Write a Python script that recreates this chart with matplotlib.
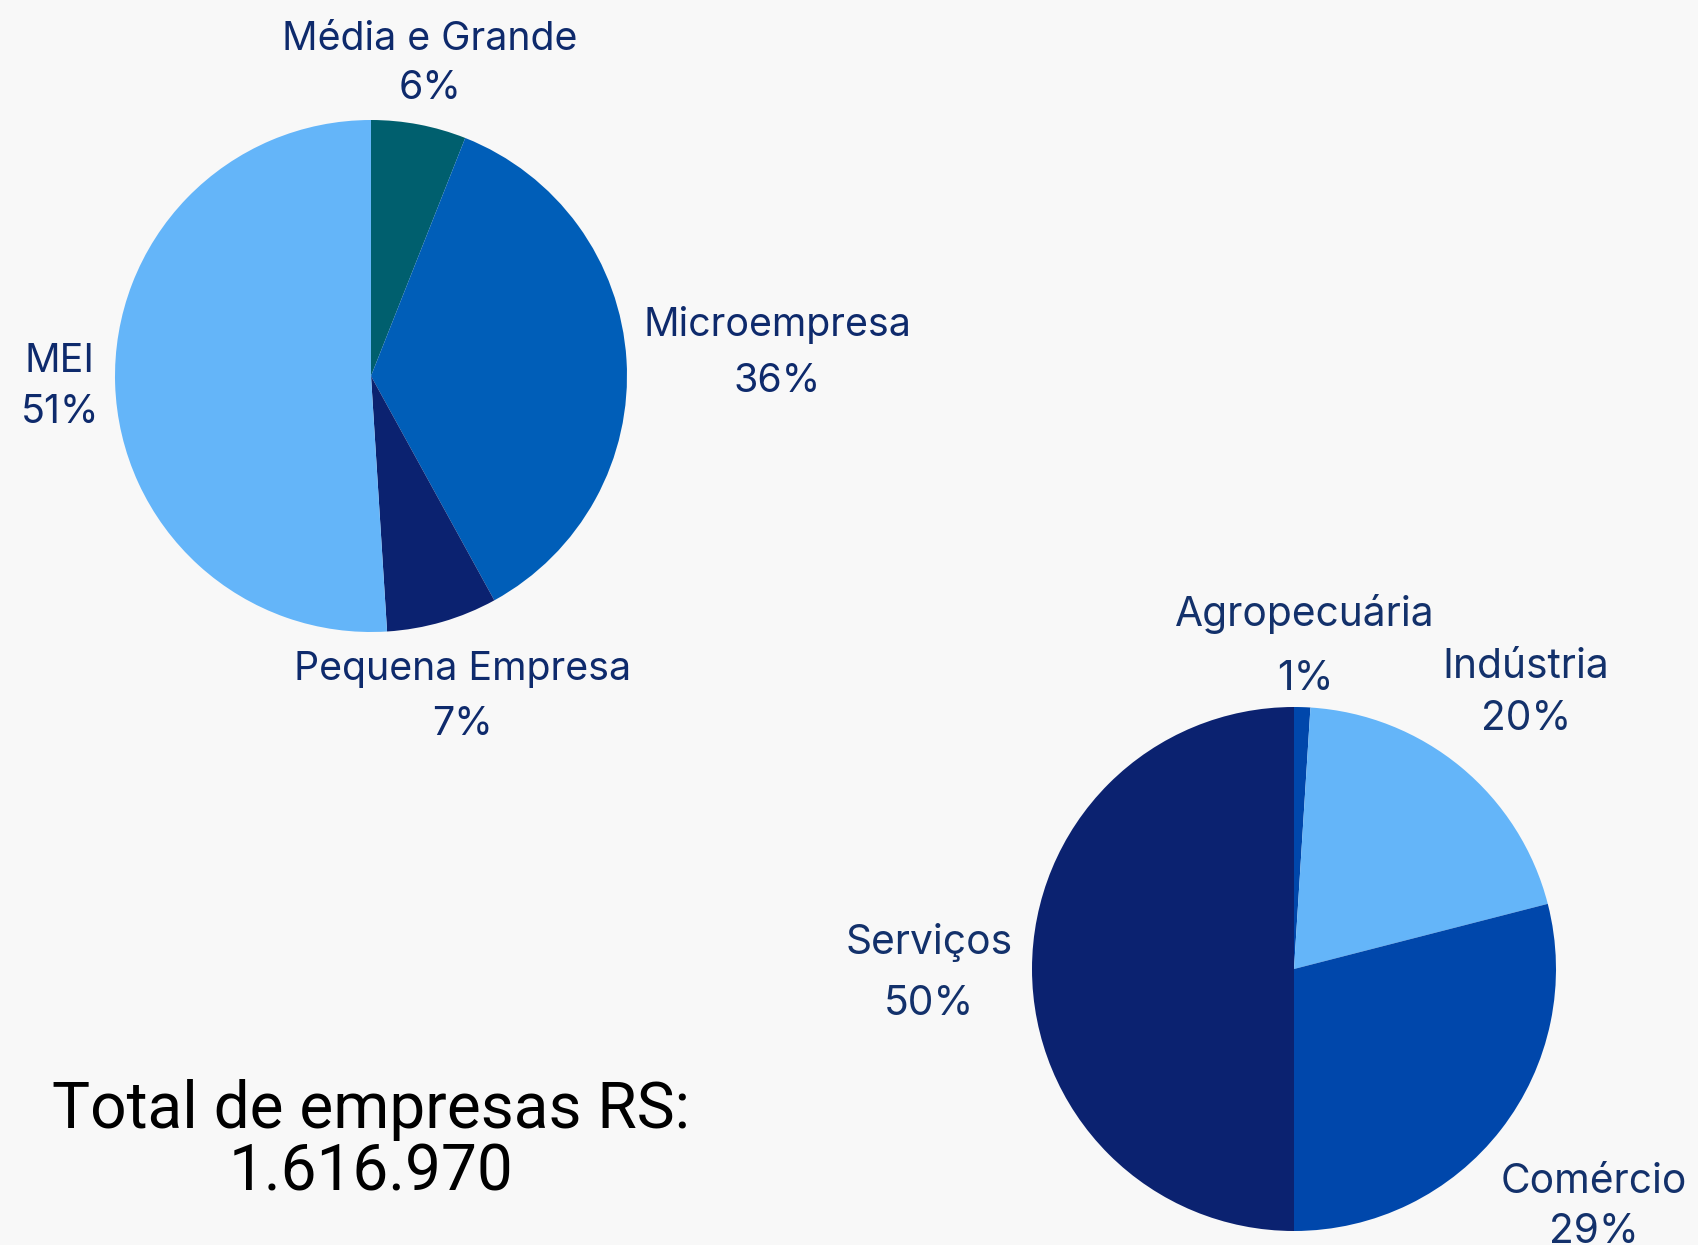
import matplotlib
matplotlib.use("Agg")
import matplotlib.pyplot as plt

# Data
porte_labels = ["Média e Grande", "Microempresa", "Pequena Empresa", "MEI"]
porte_values = [6, 36, 7, 51]
porte_colors = ["#005F6E", "#005EB8", "#0B2270", "#64B5F9"]

setor_labels = ["Agropecuária", "Indústria", "Comércio", "Serviços"]
setor_values = [1, 20, 29, 50]
setor_colors = ["#0047AB", "#64B5F9", "#0047AB", "#0B2270"]

total_text = "Total de empresas RS:\n1.616.970"

W, H = 1698, 1245
BG = "#F8F8F8"
FONT = ["Inter", "DejaVu Sans"]

fig = plt.figure(figsize=(W / 100, H / 100), dpi=100, facecolor=BG)
ax = fig.add_axes([0, 0, 1, 1])
ax.set_facecolor(BG)

def y(v):
    return H - v

ax.pie(porte_values, colors=porte_colors, startangle=90, counterclock=False,
       center=(371, y(376)), radius=256, wedgeprops=dict(linewidth=0))
ax.pie(setor_values, colors=setor_colors, startangle=90, counterclock=False,
       center=(1294, y(969)), radius=262, wedgeprops=dict(linewidth=0))
ax.set_xlim(0, W)
ax.set_ylim(0, H)
ax.set_aspect("equal")
ax.axis("off")

# label layout (order matches porte_labels / setor_labels)
porte_pos = [(430, 64), (777, 353), (463, 697), (60, 387)]
porte_ls = [1.42, 1.65, 1.6, 1.45]
setor_pos = [(1305, 646), (1526, 693), (1594, 1207), (929, 973)]
setor_ls = [1.85, 1.5, 1.43, 1.75]

for lab, v, (px, py), ls in zip(porte_labels, porte_values, porte_pos, porte_ls):
    ax.text(px, y(py), f"{lab}\n{v}%", ha="center", va="center", fontsize=28.3,
            color="#0E2A6C", family=FONT, linespacing=ls)
for lab, v, (px, py), ls in zip(setor_labels, setor_values, setor_pos, setor_ls):
    ax.text(px, y(py), f"{lab}\n{v}%", ha="center", va="center", fontsize=29.3,
            color="#13316B", family=FONT, linespacing=ls)

ax.text(371, y(1141), total_text, ha="center", va="center", fontsize=46,
        color="black", family=["Roboto", "DejaVu Sans"], fontweight="normal",
        linespacing=1.02)

fig.savefig("out.png", dpi=100, facecolor=BG)
